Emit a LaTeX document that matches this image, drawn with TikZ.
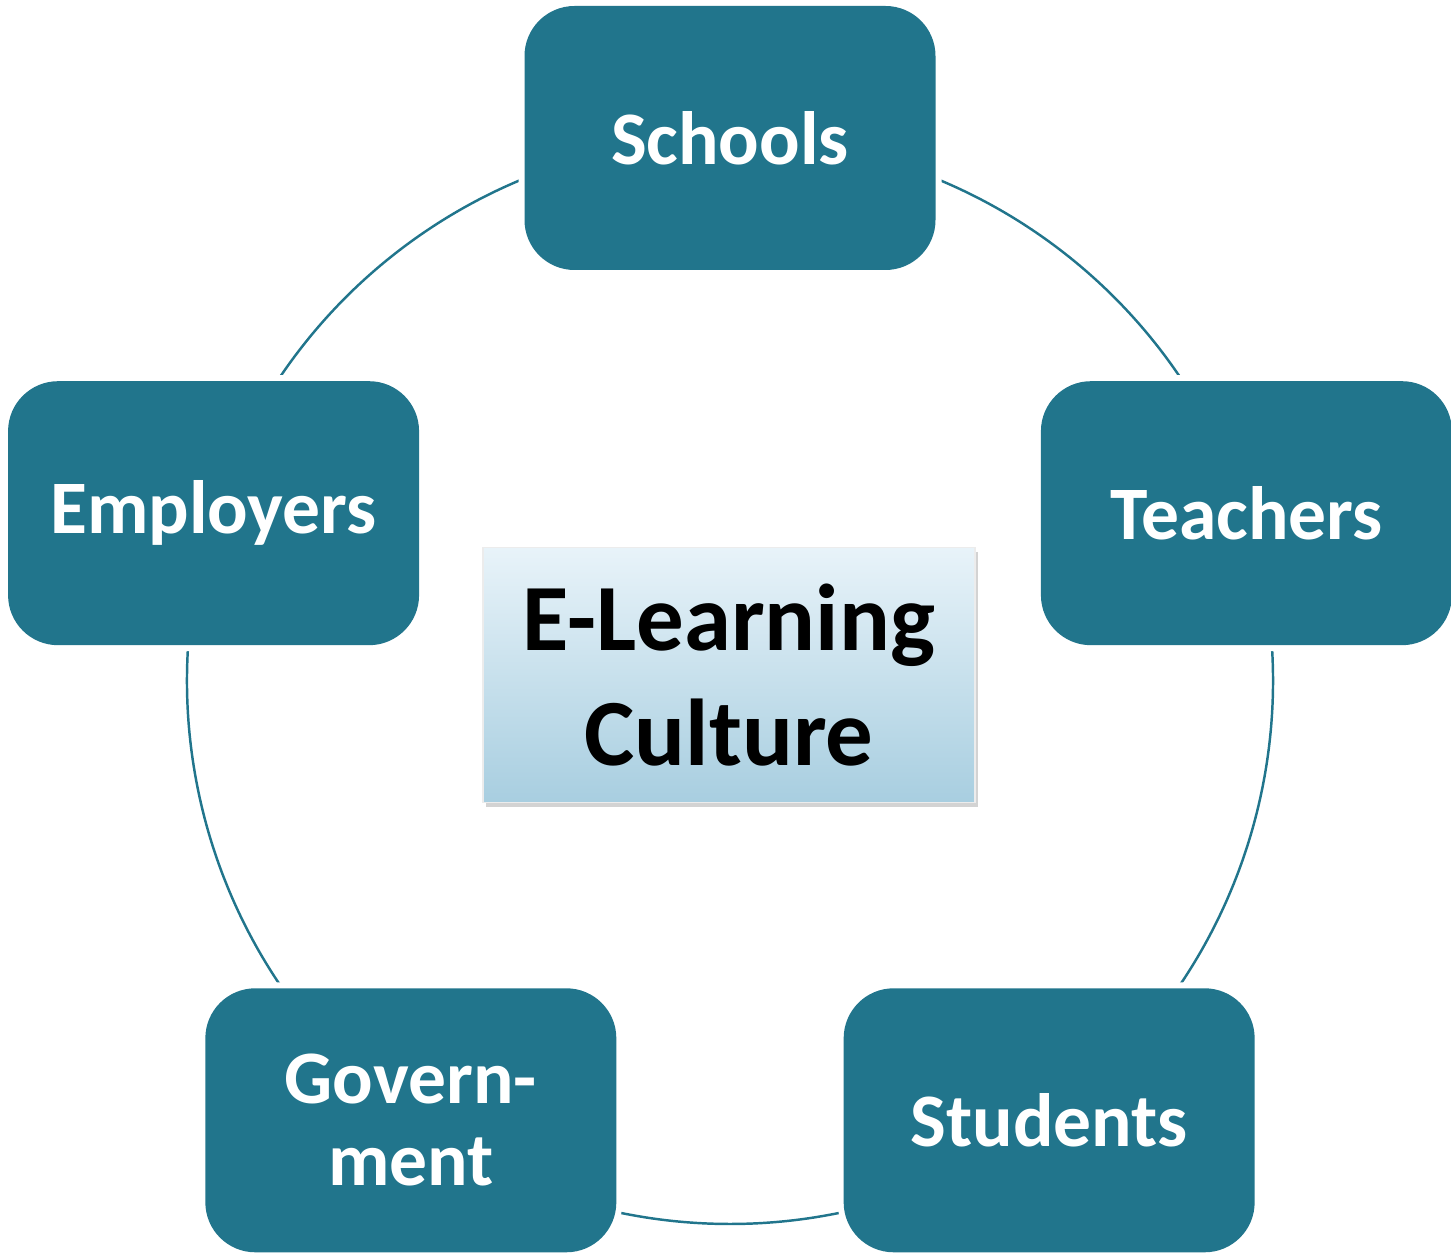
\documentclass[tikz,border=0pt]{standalone}
\usepackage{fontspec}
\setmainfont{Carlito}
\usetikzlibrary{positioning,calc,backgrounds,shadows}
\definecolor{petalteal}{RGB}{33,117,140}
\definecolor{hubtop}{RGB}{232,243,249}
\definecolor{hubbottom}{RGB}{168,206,224}

\begin{document}
\begin{tikzpicture}[
    petal/.style={rounded corners=0.5cm, fill=petalteal, minimum width=4.11cm, minimum height=2.64cm,
      align=center, text=white, font=\fontsize{21.5}{23.4}\selectfont\bfseries,
      preaction={draw=white, line width=0.12cm}},
    hubbox/.style={top color=hubtop, bottom color=hubbottom, draw=white!85!gray, line width=0.4pt,
      minimum width=4.92cm, minimum height=2.55cm, align=center,
      font=\fontsize{27}{32.7}\selectfont\bfseries,
      drop shadow={shadow xshift=0.03cm, shadow yshift=-0.05cm, opacity=0.35}},
    ring/.style={draw=petalteal, line width=0.7pt}]
  \useasboundingbox (0,0) rectangle (14.51,12.55);

  \coordinate (hub) at (7.30,5.74);

  \node[hubbox] (culture) at (7.29,5.80) {E-Learning\\Culture};

  \node[petal] (schools) at ($(hub)+(90:5.43)$) {Schools};
  \node[petal] (teachers) at ($(hub)+(18:5.43)$) {Teachers};
  \node[petal] (students) at ($(hub)+(-54:5.43)$) {Students};
  \node[petal] (government) at ($(hub)+(-126:5.43)$) {Govern-\\ment};
  \node[petal] (employers) at ($(hub)+(162:5.43)$) {Employers};

  % the ring runs behind the boxes
  \begin{scope}[on background layer]
    \draw[ring] (schools.center) arc[start angle=90, end angle=18, radius=5.43];
    \draw[ring] (teachers.center) arc[start angle=18, end angle=-54, radius=5.43];
    \draw[ring] (students.center) arc[start angle=-54, end angle=-126, radius=5.43];
    \draw[ring] (government.center) arc[start angle=-126, end angle=-198, radius=5.43];
    \draw[ring] (employers.center) arc[start angle=162, end angle=90, radius=5.43];
  \end{scope}
\end{tikzpicture}
\end{document}
